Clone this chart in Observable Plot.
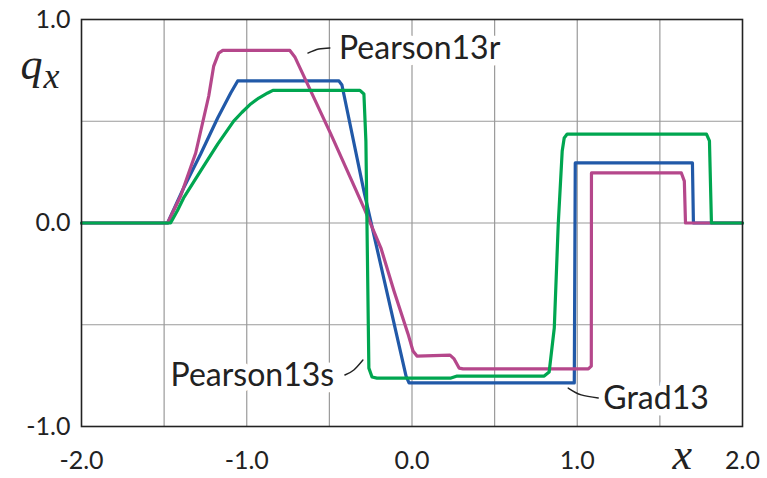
<!DOCTYPE html>
<html>
<head>
<meta charset="utf-8">
<script src="https://cdn.jsdelivr.net/npm/d3@7"></script>
<script src="https://cdn.jsdelivr.net/npm/@observablehq/plot@0.6"></script>
<style>
  html, body { margin: 0; padding: 0; background: #fff; }
  #chart svg { display: block; }
</style>
</head>
<body>
<div id="chart"></div>
<script>
// ---- data ----
const seriesNames = ["Grad13", "Pearson13r", "Pearson13s"];
const seriesColors = ["#2159a8", "#b5478b", "#00a650"];

const grad13X = [-2, -1.479, -1.382, -1.279, -1.176, -1.097, -1.055, -0.442, -0.424, -0.291, -0.036, -0.018, 0.982, 0.988, 1.697, 1.703, 2];
const grad13Y = [0, 0, 0.172, 0.339, 0.516, 0.639, 0.698, 0.698, 0.678, 0.157, -0.752, -0.786, -0.786, 0.295, 0.295, 0, 0];

const pearson13rX = [-2, -1.479, -1.400, -1.309, -1.230, -1.200, -1.170, -1.145, -0.739, -0.709, -0.491, -0.291, -0.188, -0.109, -0.024, 0.006, 0.030, 0.230, 0.255, 0.285, 0.309, 1.067, 1.085, 1.086, 1.630, 1.648, 1.655, 2];
const pearson13rY = [0, 0, 0.133, 0.344, 0.624, 0.771, 0.835, 0.848, 0.848, 0.816, 0.437, 0.074, -0.123, -0.334, -0.545, -0.629, -0.654, -0.649, -0.668, -0.713, -0.717, -0.717, -0.703, 0.246, 0.246, 0.206, 0, 0];

const pearson13sX = [-2, -1.461, -1.420, -1.382, -1.279, -1.176, -1.079, -1.030, -0.976, -0.927, -0.873, -0.842, -0.315, -0.291, -0.279, -0.261, -0.242, -0.212, 0.236, 0.273, 0.800, 0.830, 0.861, 0.885, 0.909, 0.921, 0.939, 1.782, 1.800, 1.812, 2];
const pearson13sY = [0, 0, 0.060, 0.123, 0.256, 0.388, 0.501, 0.543, 0.585, 0.614, 0.639, 0.652, 0.652, 0.634, 0.403, -0.713, -0.757, -0.762, -0.762, -0.752, -0.752, -0.732, -0.516, -0.005, 0.354, 0.418, 0.437, 0.437, 0.403, 0, 0];

const xTickLabels = [-2, -1, 0, 1, 2];
const yTickLabels = [-1, 0, 1];
const xGrid = [-1.5, -1, -0.5, 0, 0.5, 1, 1.5];
const yGrid = [-0.5, 0, 0.5];

// series labels (text anchor point in data units) and their leader curves
const labelText = ["Pearson13r", "Pearson13s", "Grad13"];
const labelX = [-0.442, -1.461, 1.158];
const labelY = [0.806, -0.801, -0.914];
const leaderX = [[-0.630, -0.564, -0.497], [-0.406, -0.352, -0.297], [0.945, 1.024, 1.127]];
const leaderY = [[0.835, 0.855, 0.860], [-0.747, -0.722, -0.673], [-0.811, -0.845, -0.860]];

// ---- build tables ----
const seriesXs = [grad13X, pearson13rX, pearson13sX];
const seriesYs = [grad13Y, pearson13rY, pearson13sY];
const rows = seriesNames.flatMap((name, s) =>
  seriesXs[s].map((x, i) => ({series: name, x, y: seriesYs[s][i]})));
const labels = labelText.map((text, i) => ({text, x: labelX[i], y: labelY[i]}));
const leaders = labelText.flatMap((text, i) =>
  leaderX[i].map((x, j) => ({id: text, x, y: leaderY[i][j]})));

const fmt = d => d.toFixed(1);
const sans = "Lato, 'Open Sans', sans-serif";
const serif = "'Liberation Serif', 'DejaVu Serif', serif";

const chart = Plot.plot({
  width: 767,
  height: 478,
  marginLeft: 81,
  marginRight: 25,
  marginTop: 19,
  marginBottom: 52,
  style: {fontFamily: sans, background: "#fff", color: "#222"},
  x: {domain: [-2, 2], label: null},
  y: {domain: [-1, 1], label: null},
  color: {domain: seriesNames, range: seriesColors},
  marks: [
    Plot.gridX(xGrid, {stroke: "#9a9a9a", strokeOpacity: 1, strokeWidth: 1.2}),
    Plot.gridY(yGrid, {stroke: "#9a9a9a", strokeOpacity: 1, strokeWidth: 1.2}),
    Plot.axisX(xTickLabels, {tickSize: 0, tickPadding: 25, fontSize: 25, tickFormat: fmt, label: null, fill: "#222"}),
    Plot.axisY(yTickLabels, {tickSize: 0, tickPadding: 11, fontSize: 25, tickFormat: fmt, label: null, fill: "#222"}),
    Plot.text(labels, {x: "x", y: "y", text: "text", textAnchor: "start", lineAnchor: "bottom",
      fontSize: 32, fill: "#222", stroke: "white", strokeWidth: 13, paintOrder: "stroke"}),
    Plot.line(rows, {x: "x", y: "y", z: "series", stroke: "series", strokeWidth: 3.2,
      strokeLinejoin: "round", strokeLinecap: "round"}),
    Plot.line(leaders, {x: "x", y: "y", z: "id", stroke: "#222", strokeWidth: 1.4, curve: "natural"}),
    Plot.frame({stroke: "#222", strokeWidth: 1.6}),
    Plot.text(["q"], {frameAnchor: "top-left", dx: -61, dy: 59, textAnchor: "start", lineAnchor: "bottom",
      fontFamily: serif, fontStyle: "italic", fontSize: 44, fill: "#222"}),
    Plot.text(["x"], {frameAnchor: "top-left", dx: -38, dy: 68, textAnchor: "start", lineAnchor: "bottom",
      fontFamily: serif, fontStyle: "italic", fontSize: 36, fill: "#222"}),
    Plot.text(["x"], {frameAnchor: "bottom-right", dx: -70, dy: 42, textAnchor: "start", lineAnchor: "bottom",
      fontFamily: serif, fontStyle: "italic", fontSize: 44, fill: "#222"})
  ]
});
document.getElementById("chart").appendChild(chart);
</script>
</body>
</html>
